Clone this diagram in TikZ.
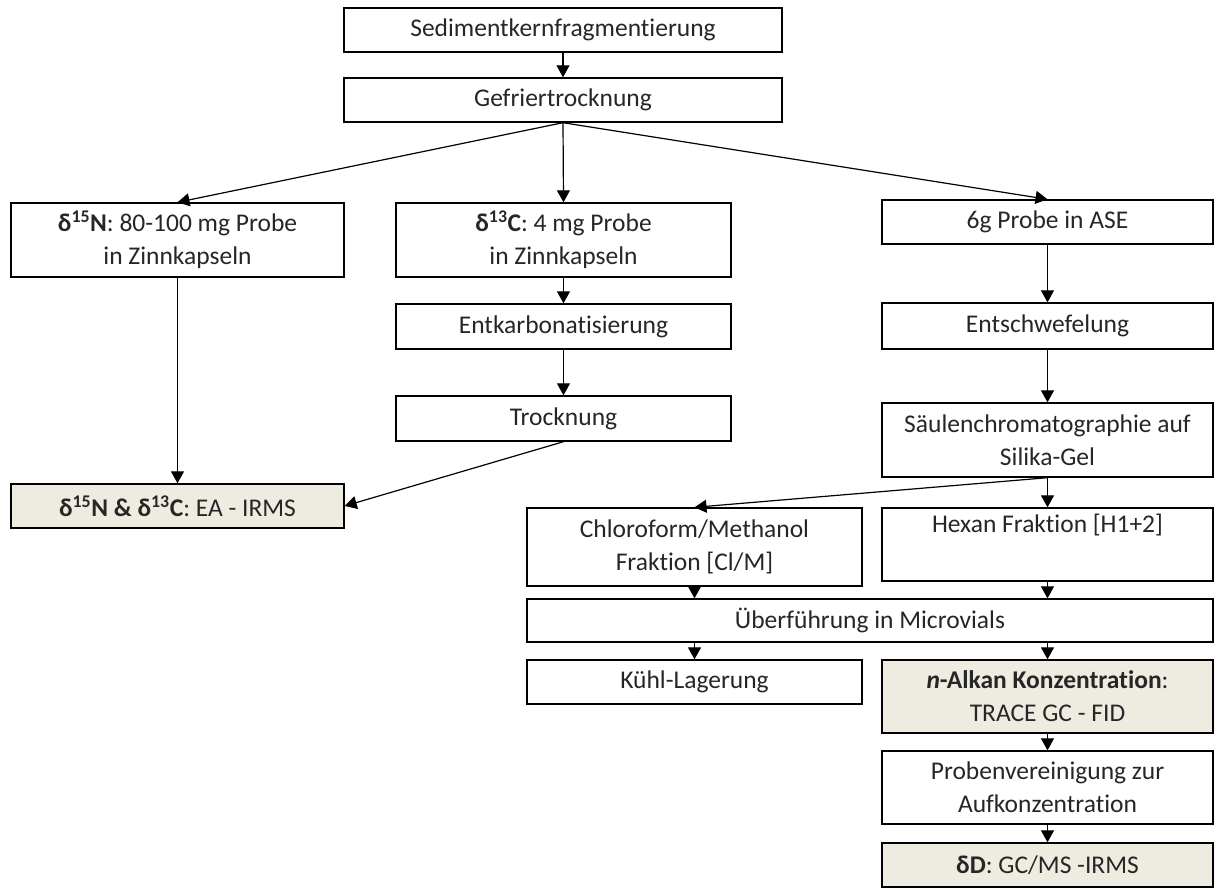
\documentclass[tikz,border=0pt]{standalone}
\usepackage{fontspec}
\setmainfont{Carlito}[Ligatures=CommonOff]
\usetikzlibrary{arrows.meta}
\definecolor{messgrau}{HTML}{EEECE1}

\begin{document}
\begin{tikzpicture}[x=1pt, y=-1pt, >={Triangle[length=12pt,width=13pt]},
  box/.style n args={2}{draw, line width=1.4pt, minimum width=#1pt, minimum height=#2pt,
    inner sep=0pt, align=center, text=black!85, font=\fontsize{25.5}{33}\selectfont},
  mess/.style={fill=messgrau}, every path/.style={line width=1.2pt}]
  \useasboundingbox (0,0) rectangle (1215,888);
  % oben
  \node[box={438}{44}] (sed) at (563,30) {Sedimentkernfragmentierung};
  \node[box={438}{44}] (gef) at (563,100) {Gefriertrocknung};
  % drei Zweige
  \node[box={333}{74}] (n15) at (177.5,240) {\textbf{δ\textsuperscript{15}N}: 80-100 mg Probe\\in Zinnkapseln};
  \node[box={335}{74}] (c13) at (563.5,240) {\textbf{δ\textsuperscript{13}C}: 4 mg Probe\\in Zinnkapseln};
  \node[box={331}{44}] (ase) at (1047.5,222) {6g Probe in ASE};
  \node[box={335}{45}] (entk) at (563.5,326.5) {Entkarbonatisierung};
  \node[box={335}{45}] (trock) at (563.5,418.5) {Trocknung};
  \node[box={331}{46}] (entsch) at (1047.5,326) {Entschwefelung};
  \node[box={331}{74}] (saeule) at (1047.5,440) {Säulenchromatographie auf\\Silika-Gel};
  \node[box={333}{44},mess] (ea) at (177.5,506) {\textbf{δ\textsuperscript{15}N \& δ\textsuperscript{13}C}: EA - IRMS};
  % Fraktionen
  \node[box={335}{78}] (chl) at (694.5,547) {Chloroform/Methanol\\Fraktion [Cl/M]};
  \node[box={331}{73}] (hex) at (1047.5,544.5) {Hexan Fraktion [H1+2]\\\strut};
  \node[box={686}{43}] (ueb) at (870,620.5) {Überführung in Microvials};
  \node[box={335}{44}] (kuehl) at (694.5,682) {Kühl-Lagerung};
  \node[box={331}{73},mess] (alkan) at (1047.5,696.5) {\textbf{\textit{n}-Alkan Konzentration}:\\TRACE GC - FID};
  \node[box={331}{73}] (proben) at (1047.5,787.5) {Probenvereinigung zur\\Aufkonzentration};
  \node[box={331}{44},mess] (dD) at (1047.5,865) {\textbf{δD}: GC/MS -IRMS};

  \draw[->] (sed) -- (gef);
  \draw[->] (gef.south) -- (n15.north);
  \draw[->] (gef.south) -- (c13.north);
  \draw[->] (gef.south) -- (ase.north);
  \draw[->] (n15) -- (ea);
  \draw[->] (c13) -- (entk);
  \draw[->] (entk) -- (trock);
  \draw[->] (trock.south) -- (ea.east);
  \draw[->] (ase) -- (entsch);
  \draw[->] (entsch) -- (saeule);
  \draw[->] (saeule.south) -- (chl.north);
  \draw[->] (saeule) -- (hex);
  \draw[->] (chl.south) -- (chl.south |- ueb.north);
  \draw[->] (hex.south) -- (hex.south |- ueb.north);
  \draw[->] (kuehl.north |- ueb.south) -- (kuehl.north);
  \draw[->] (alkan.north |- ueb.south) -- (alkan.north);
  \draw[->] (alkan) -- (proben);
  \draw[->] (proben) -- (dD);
\end{tikzpicture}
\end{document}
